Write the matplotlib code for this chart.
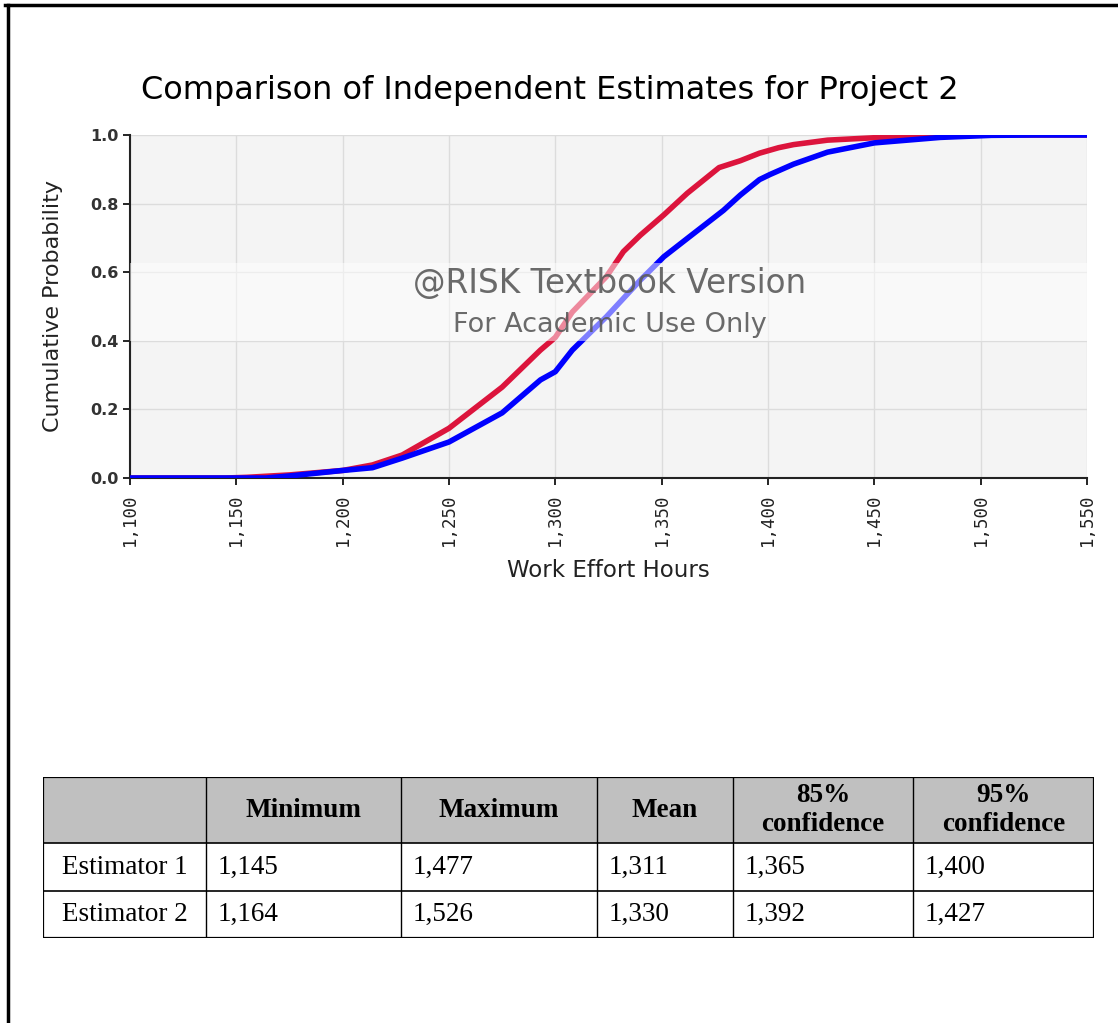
import matplotlib
matplotlib.use('Agg')
import matplotlib.pyplot as plt
from matplotlib.lines import Line2D
from matplotlib.patches import Rectangle
from matplotlib.ticker import FuncFormatter, MultipleLocator

# cumulative curves (work effort hours, cumulative probability)
est1_hours = [1100, 1145, 1155, 1175, 1200, 1214, 1228, 1250, 1275, 1293, 1300, 1308,
              1324, 1332, 1340, 1351, 1362, 1370, 1377, 1387, 1396, 1405, 1412, 1428,
              1450, 1465, 1477, 1550]
est1_prob = [0.0, 0.0, 0.002, 0.009, 0.022, 0.038, 0.067, 0.145, 0.265, 0.373, 0.41, 0.484,
             0.587, 0.66, 0.708, 0.767, 0.83, 0.87, 0.905, 0.925, 0.947, 0.963, 0.972, 0.985,
             0.992, 0.997, 1.0, 1.0]

est2_hours = [1100, 1164, 1175, 1200, 1214, 1228, 1250, 1275, 1293, 1300, 1308, 1324,
              1340, 1351, 1363, 1379, 1387, 1396, 1401, 1412, 1428, 1450, 1481, 1505,
              1526, 1550]
est2_prob = [0.0, 0.0, 0.006, 0.022, 0.03, 0.058, 0.105, 0.19, 0.286, 0.31, 0.373, 0.47,
             0.577, 0.645, 0.703, 0.78, 0.825, 0.87, 0.885, 0.915, 0.95, 0.977, 0.993, 0.999,
             1.0, 1.0]

# summary table
col_headers = ['', 'Minimum', 'Maximum', 'Mean', '85%\nconfidence', '95%\nconfidence']
row_names = ['Estimator 1', 'Estimator 2']
table_vals = [[1145, 1477, 1311, 1365, 1400],
              [1164, 1526, 1330, 1392, 1427]]

W, H = 1118, 1023
fig = plt.figure(figsize=(W / 100, H / 100), dpi=100)

def fx(px):
    return px / W

def fy(py):
    return 1 - py / H

# page frame (top and left edges)
fig.add_artist(Line2D([fx(5), 1], [fy(5), fy(5)], color='black', lw=2.5))
fig.add_artist(Line2D([fx(8), fx(8)], [fy(5), 0], color='black', lw=2.5))

fig.text(fx(550), fy(90), 'Comparison of Independent Estimates for Project 2',
         ha='center', va='center', fontsize=23, color='black')

ax = fig.add_axes([fx(130), fy(478), fx(1087) - fx(130), fy(135) - fy(478)])
ax.set_facecolor('#f4f4f4')
ax.plot(est2_hours, est2_prob, color='#0000ff', lw=4, zorder=3, solid_capstyle='butt')
ax.plot(est1_hours, est1_prob, color='#dc143c', lw=4, zorder=2, solid_capstyle='butt')
ax.set_xlim(1100, 1550)
ax.set_ylim(0, 1.0)
ax.xaxis.set_major_locator(MultipleLocator(50))
ax.yaxis.set_major_locator(MultipleLocator(0.2))
ax.xaxis.set_major_formatter(FuncFormatter(lambda v, p: f'{int(v):,}'))
ax.yaxis.set_major_formatter(FuncFormatter(lambda v, p: f'{v:.1f}'))
ax.grid(True, color='#dcdcdc', lw=1)
ax.set_axisbelow(True)
for s in ['top', 'right']:
    ax.spines[s].set_visible(False)
for s in ['left', 'bottom']:
    ax.spines[s].set_linewidth(1.5)
    ax.spines[s].set_color('#222222')
ax.tick_params(axis='x', length=5, width=1.2, rotation=90, labelsize=12.5, pad=6)
ax.tick_params(axis='y', length=5, width=1.2, labelsize=11.5, pad=3)
for t in ax.get_xticklabels():
    t.set_fontfamily('DejaVu Sans Mono')
    t.set_color('#222222')
for t in ax.get_yticklabels():
    t.set_fontweight('bold')
    t.set_color('#333333')

ax.set_ylabel('Cumulative Probability', fontsize=16, color='#222222')
ax.yaxis.set_label_coords(-0.07, 0.5)
ax.set_xlabel('Work Effort Hours', fontsize=16.5, color='#222222')
ax.xaxis.set_label_coords(0.5, -0.27)
ax.xaxis.label.set_va('center')

# watermark band and text
ax.axhspan(0.40, 0.627, color='white', alpha=0.5, lw=0, zorder=4)
ax.text(0.5016, 0.566, '@RISK Textbook Version', transform=ax.transAxes, ha='center',
        va='center', fontsize=23.5, color='#5a5a5a', alpha=0.9, zorder=5)
ax.text(0.5016, 0.446, 'For Academic Use Only', transform=ax.transAxes, ha='center',
        va='center', fontsize=19.5, color='#5a5a5a', alpha=0.9, zorder=5)

# table drawn in pixel-like coordinates
col_edges = [43, 206, 401, 597, 733, 913, 1094]
row_edges = [777, 843, 891, 938]
tab = fig.add_axes([fx(col_edges[0]), fy(row_edges[-1]),
                    fx(col_edges[-1]) - fx(col_edges[0]), fy(row_edges[0]) - fy(row_edges[-1])])
tab.set_xlim(col_edges[0], col_edges[-1])
tab.set_ylim(row_edges[-1], row_edges[0])
tab.axis('off')
tab.add_patch(Rectangle((col_edges[0], row_edges[0]), col_edges[-1] - col_edges[0],
                        row_edges[1] - row_edges[0], color='#c0c0c0', lw=0))
for x in col_edges[1:-1]:
    tab.plot([x, x], [row_edges[0], row_edges[-1]], color='black', lw=1)
for y in row_edges[1:-1]:
    tab.plot([col_edges[0], col_edges[-1]], [y, y], color='black', lw=1.2)
tab.add_patch(Rectangle((col_edges[0], row_edges[0]), col_edges[-1] - col_edges[0],
                        row_edges[-1] - row_edges[0], fill=False, ec='black', lw=1.6))

serif = 'Liberation Serif'
for i, h in enumerate(col_headers):
    if h:
        tab.text((col_edges[i] + col_edges[i + 1]) / 2, (row_edges[0] + row_edges[1]) / 2, h,
                 ha='center', va='center', fontsize=19.5, fontweight='bold',
                 family=serif, linespacing=1.25)
for r, name in enumerate(row_names):
    yc = (row_edges[r + 1] + row_edges[r + 2]) / 2
    tab.text((col_edges[0] + col_edges[1]) / 2, yc, name, ha='center', va='center',
             fontsize=19.5, family=serif)
    for c, v in enumerate(table_vals[r]):
        tab.text(col_edges[c + 1] + 12, yc, f'{v:,}', ha='left', va='center',
                 fontsize=19.5, family=serif)

fig.savefig('out.png', dpi=100)
